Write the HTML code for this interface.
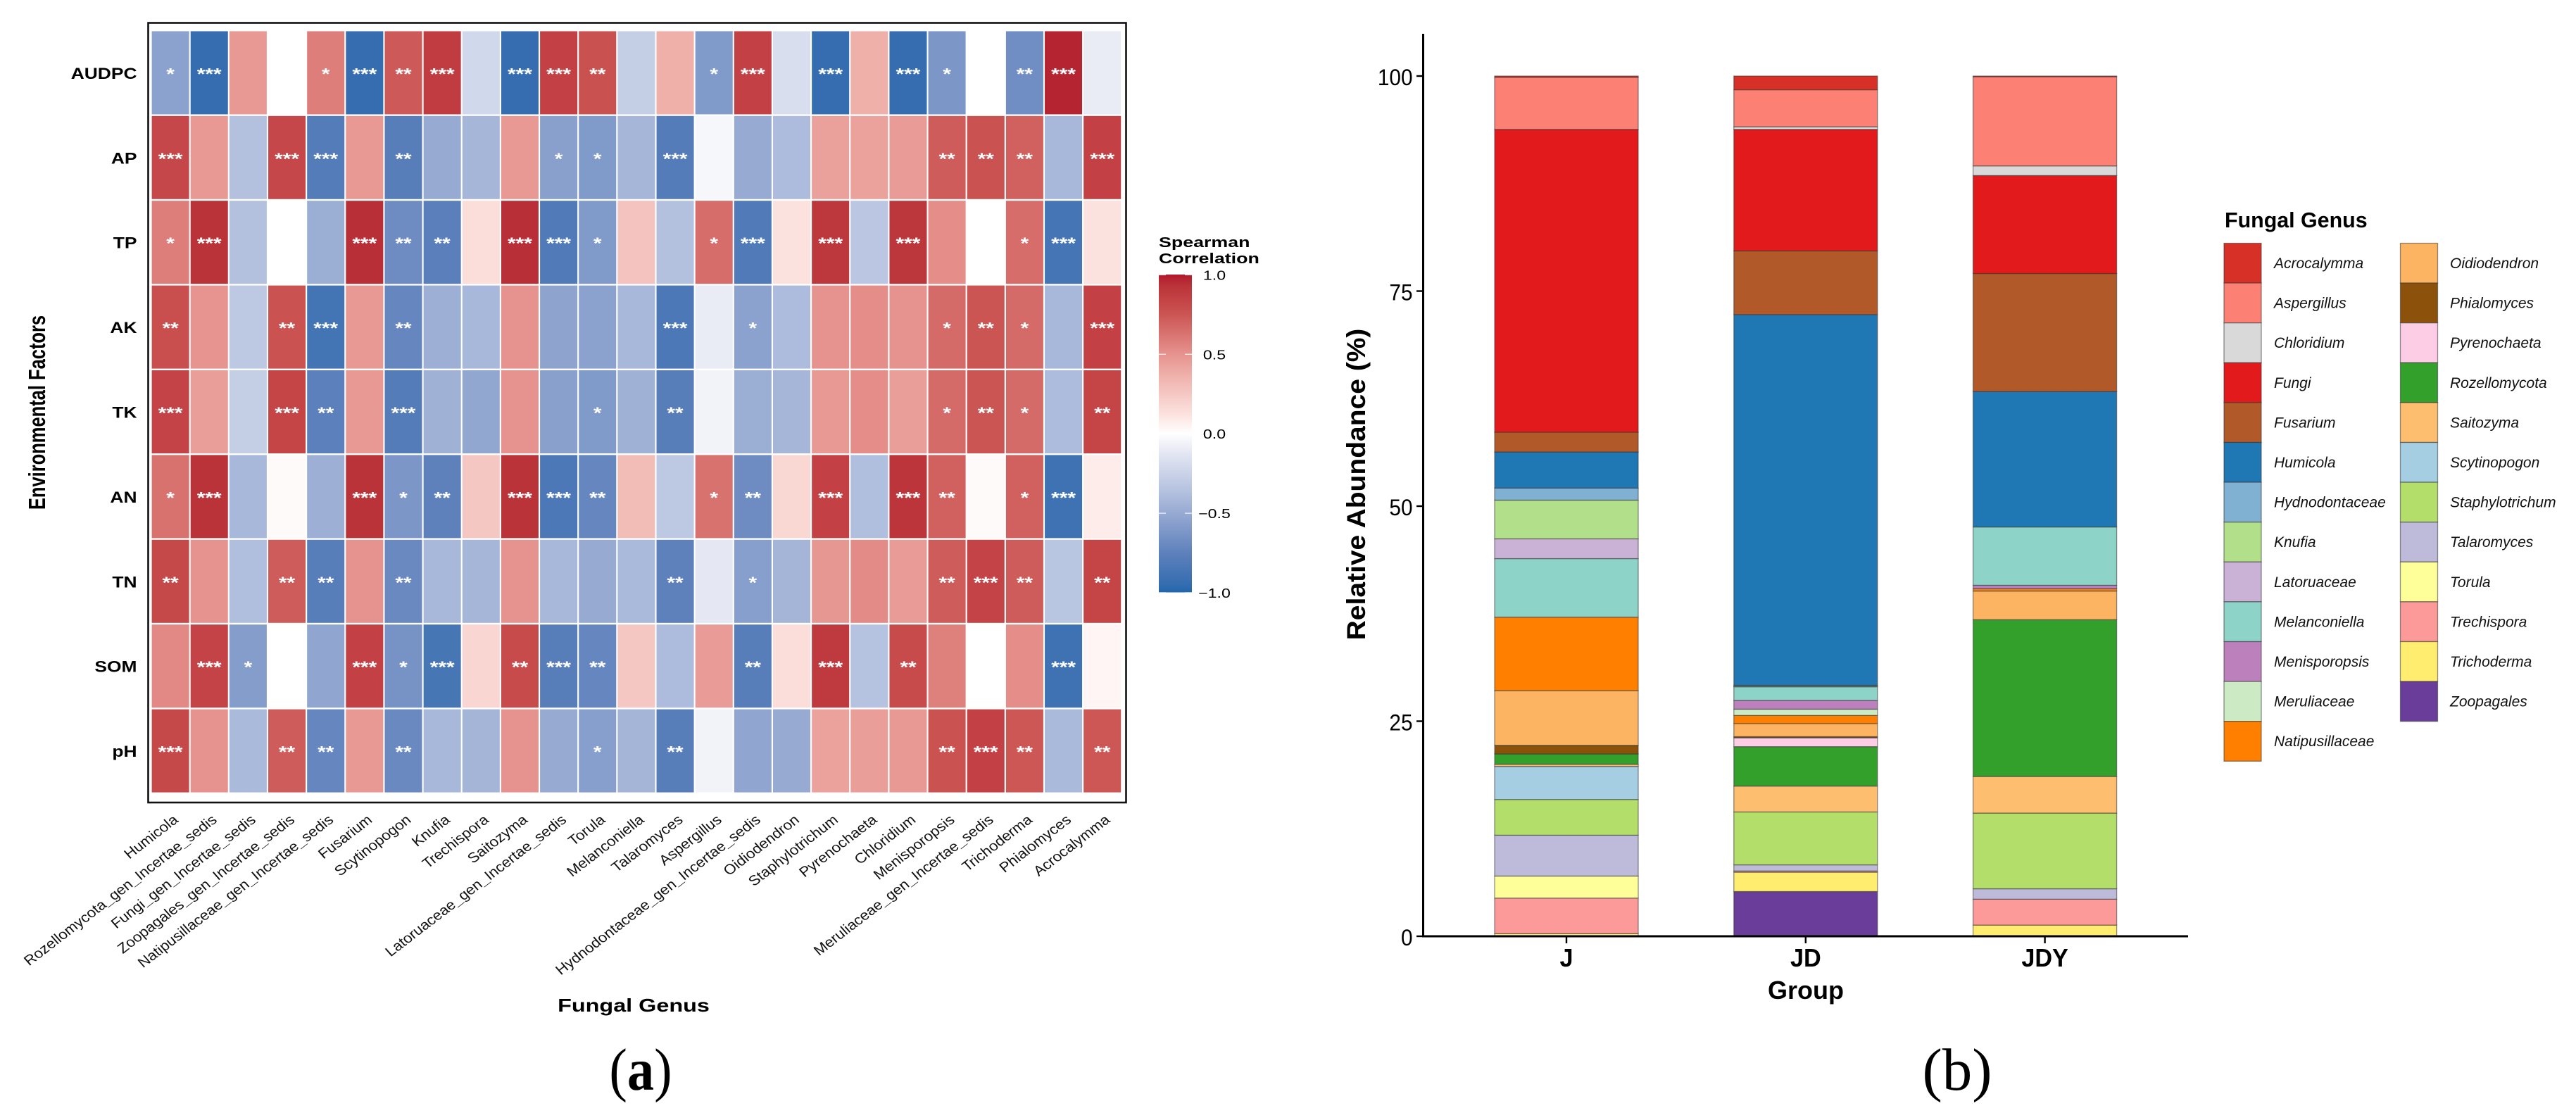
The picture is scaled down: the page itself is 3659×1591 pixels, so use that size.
<!DOCTYPE html>
<html lang="en">
<head>
<meta charset="utf-8">
<title>Spearman correlation heatmap and relative abundance of fungal genera</title>
<style>
html,body{margin:0;padding:0;background:#fff;}
svg{display:block;font-family:"Liberation Sans",Arial,sans-serif;}
</style>
</head>
<body>
<svg id="fig" xmlns="http://www.w3.org/2000/svg" width="3659" height="1591" viewBox="0 0 3659 1591">
  <rect x="0" y="0" width="3659" height="1591" fill="#fff"/>
  <g id="panelA">
    <g id="heatCells"></g>
    <rect x="210.5" y="32.5" width="1389" height="1107.5" fill="none" stroke="#111" stroke-width="2.6"/>
    <g id="heatYLabels"></g>
    <g id="heatXLabels"></g>
    <text transform="translate(64,586) scale(1.3,1) rotate(-90)" text-anchor="middle" font-size="25.5" font-weight="bold" fill="#000">Environmental Factors</text>
    <text transform="translate(900,1437) scale(1.27,1)" text-anchor="middle" font-size="25.5" font-weight="bold" fill="#000">Fungal Genus</text>
    <g>
      <text transform="translate(1646,351) scale(1.34,1)" font-size="20" font-weight="bold" fill="#000">Spearman</text>
      <text transform="translate(1646,374) scale(1.34,1)" font-size="20" font-weight="bold" fill="#000">Correlation</text>
      <defs><linearGradient id="cbGrad" x1="0" y1="1" x2="0" y2="0"></linearGradient></defs>
      <rect x="1646" y="390" width="47" height="451.5" fill="url(#cbGrad)"/>
      <g id="cbTicks"></g>
    </g>
    <text transform="translate(910,1548) scale(0.9,1)" text-anchor="middle" font-family="'Liberation Serif',serif" font-size="85" fill="#000">(<tspan font-weight="bold">a</tspan>)</text>
  </g>
  <g id="panelB">
    <g id="bars"></g>
    <line x1="2021.5" y1="48" x2="2021.5" y2="1331.5" stroke="#000" stroke-width="3"/>
    <line x1="2020" y1="1330" x2="3108" y2="1330" stroke="#000" stroke-width="3"/>
    <g id="barYTicks"></g>
    <g id="barXTicks"></g>
    <text transform="translate(1939,688) scale(0.96,1) rotate(-90)" text-anchor="middle" font-size="39" font-weight="bold" fill="#000">Relative Abundance (%)</text>
    <text transform="translate(2565,1419)" text-anchor="middle" font-size="36" font-weight="bold" fill="#000">Group</text>
    <text x="3160" y="323" font-size="30.4" font-weight="bold" fill="#000">Fungal Genus</text>
    <g id="barLegend"></g>
    <text x="2780" y="1548" text-anchor="middle" font-family="'Liberation Serif',serif" font-size="85" fill="#000">(b)</text>
  </g>
</svg>
<script>
/* ---------- heatmap data ---------- */
const heatGenera = ["Humicola","Rozellomycota_gen_Incertae_sedis","Fungi_gen_Incertae_sedis","Zoopagales_gen_Incertae_sedis","Natipusillaceae_gen_Incertae_sedis","Fusarium","Scytinopogon","Knufia","Trechispora","Saitozyma","Latoruaceae_gen_Incertae_sedis","Torula","Melanconiella","Talaromyces","Aspergillus","Hydnodontaceae_gen_Incertae_sedis","Oidiodendron","Staphylotrichum","Pyrenochaeta","Chloridium","Menisporopsis","Meruliaceae_gen_Incertae_sedis","Trichoderma","Phialomyces","Acrocalymma"];
const heatFactors = ["AUDPC","AP","TP","AK","TK","AN","TN","SOM","pH"];

const corrAUDPC = [-0.55,-0.95,0.47,0,0.58,-0.95,0.73,0.88,-0.22,-0.95,0.85,0.77,-0.28,0.37,-0.6,0.85,-0.18,-0.95,0.37,-0.95,-0.62,0,-0.67,0.97,-0.1];
const corrAP = [0.82,0.47,-0.37,0.82,-0.8,0.47,-0.78,-0.5,-0.43,0.47,-0.56,-0.6,-0.43,-0.8,-0.04,-0.5,-0.4,0.44,0.43,0.46,0.72,0.76,0.7,-0.42,0.85];
const corrTP = [0.58,0.93,-0.37,0,-0.48,0.94,-0.68,-0.77,0.14,0.94,-0.82,-0.6,0.27,-0.37,0.65,-0.82,0.12,0.9,-0.33,0.91,0.52,0,0.65,-0.87,0.12];
const corrAK = [0.78,0.49,-0.32,0.76,-0.88,0.47,-0.72,-0.47,-0.42,0.5,-0.54,-0.55,-0.42,-0.84,-0.1,-0.55,-0.4,0.5,0.52,0.5,0.66,0.75,0.66,-0.42,0.85];
const corrTK = [0.84,0.45,-0.28,0.83,-0.76,0.47,-0.8,-0.46,-0.52,0.5,-0.56,-0.6,-0.46,-0.78,-0.06,-0.48,-0.43,0.47,0.52,0.45,0.66,0.75,0.66,-0.4,0.83];
const corrAN = [0.63,0.93,-0.42,0.02,-0.47,0.93,-0.62,-0.75,0.25,0.93,-0.84,-0.72,0.31,-0.32,0.63,-0.68,0.17,0.85,-0.38,0.92,0.7,0.02,0.7,-0.9,0.08];
const corrTN = [0.81,0.5,-0.38,0.72,-0.78,0.5,-0.7,-0.42,-0.43,0.5,-0.42,-0.5,-0.41,-0.75,-0.12,-0.57,-0.44,0.48,0.53,0.46,0.72,0.84,0.72,-0.34,0.83];
const corrSOM = [0.54,0.84,-0.58,0,-0.53,0.85,-0.64,-0.86,0.18,0.8,-0.78,-0.72,0.25,-0.4,0.46,-0.78,0.14,0.89,-0.36,0.8,0.57,0,0.52,-0.9,0.04];
const corrPH = [0.81,0.5,-0.41,0.72,-0.72,0.47,-0.7,-0.42,-0.44,0.5,-0.5,-0.57,-0.44,-0.78,-0.06,-0.53,-0.5,0.43,0.45,0.47,0.76,0.85,0.74,-0.41,0.74];
const corrRows = [corrAUDPC,corrAP,corrTP,corrAK,corrTK,corrAN,corrTN,corrSOM,corrPH];

const sigAUDPC = ["*","***","","","*","***","**","***","","***","***","**","","","*","***","","***","","***","*","","**","***",""];
const sigAP = ["***","","","***","***","","**","","","","*","*","","***","","","","","","","**","**","**","","***"];
const sigTP = ["*","***","","","","***","**","**","","***","***","*","","","*","***","","***","","***","","","*","***",""];
const sigAK = ["**","","","**","***","","**","","","","","","","***","","*","","","","","*","**","*","","***"];
const sigTK = ["***","","","***","**","","***","","","","","*","","**","","","","","","","*","**","*","","**"];
const sigAN = ["*","***","","","","***","*","**","","***","***","**","","","*","**","","***","","***","**","","*","***",""];
const sigTN = ["**","","","**","**","","**","","","","","","","**","","*","","","","","**","***","**","","**"];
const sigSOM = ["","***","*","","","***","*","***","","**","***","**","","","","**","","***","","**","","","","***",""];
const sigPH = ["***","","","**","**","","**","","","","","*","","**","","","","","","","**","***","**","","**"];
const sigRows = [sigAUDPC,sigAP,sigTP,sigAK,sigTK,sigAN,sigTN,sigSOM,sigPH];

const colorbarTicks = [1,0.5,0,-0.5,-1];
const colorbarTickLabels = ["1.0","0.5","0.0","\u22120.5","\u22121.0"];

/* ---------- stacked bar data ---------- */
const barGroups = ["J","JD","JDY"];
const barTicks = [0,25,50,75,100];
const genusNames = ["Acrocalymma","Aspergillus","Chloridium","Fungi","Fusarium","Humicola","Hydnodontaceae","Knufia","Latoruaceae","Melanconiella","Menisporopsis","Meruliaceae","Natipusillaceae","Oidiodendron","Phialomyces","Pyrenochaeta","Rozellomycota","Saitozyma","Scytinopogon","Staphylotrichum","Talaromyces","Torula","Trechispora","Trichoderma","Zoopagales"];
const genusColors = ["#D73027","#FC8074","#D9D9D9","#E31A1C","#B15928","#1F78B4","#80B1D3","#B2DF8A","#CAB2D6","#8DD3C7","#BC80BD","#CCEBC5","#FF7F00","#FDB462","#8C510A","#FCCDE5","#33A02C","#FDBF6F","#A6CEE3","#B3DE69","#BEBADA","#FFFF99","#FB9A99","#FFED6F","#6A3D9A"];
const valuesJ = [0.15,6.05,0,35.2,2.3,4.2,1.4,4.5,2.3,6.8,0,0,8.55,6.35,1.0,0,1.2,0.25,3.85,4.15,4.75,2.56,4.14,0.3,0];
const valuesJD = [1.6,4.3,0.3,14.13,7.4,43.1,0.1,0.07,0,1.58,1.02,0.73,0.94,1.53,0.13,1.03,4.58,3.01,0,6.15,0.71,0,0.14,2.25,5.2];
const valuesJDY = [0.08,10.37,1.12,11.39,13.72,15.74,0,0,0,6.78,0.4,0,0.27,3.33,0,0,18.22,4.26,0,8.8,1.21,0,3.01,1.3,0];
const barValues = [valuesJ,valuesJD,valuesJDY];

/* ---------- helpers and axis functions ---------- */
const NS = "http://www.w3.org/2000/svg";
function el(tag, parent, attrs){
  const n = document.createElementNS(NS, tag);
  for (const k in attrs) n.setAttribute(k, attrs[k]);
  parent.appendChild(n);
  return n;
}
const colorStops = [[-1,"#2166AC"],[-0.95,"#356DB0"],[-0.75,"#5E81BC"],[-0.5,"#97AAD2"],[-0.37,"#B3C1DF"],[-0.25,"#CAD3E8"],[-0.1,"#E9EBF5"],[0,"#FFFFFF"],[0.12,"#FCE2DE"],[0.25,"#F5C7C3"],[0.37,"#EFB0AA"],[0.5,"#E6928E"],[0.75,"#CB5553"],[0.85,"#C34144"],[0.93,"#BA3339"],[1,"#B2182B"]];
function hexRgb(h){return [parseInt(h.substr(1,2),16),parseInt(h.substr(3,2),16),parseInt(h.substr(5,2),16)];}
function colorScale(v){
  v = Math.max(-1, Math.min(1, v));
  for (let i = 1; i < colorStops.length; i++){
    if (v <= colorStops[i][0]){
      const a = colorStops[i-1], b = colorStops[i];
      const t = (v - a[0]) / (b[0] - a[0]);
      const ca = hexRgb(a[1]), cb = hexRgb(b[1]);
      return "rgb(" + ca.map((c,k) => Math.round(c + (cb[k]-c)*t)).join(",") + ")";
    }
  }
  return colorStops[colorStops.length-1][1];
}
const heatLeft = 215.6, heatTop = 44.4, heatPitchX = 55.15, heatPitchY = 120.4, cellW = 53, cellH = 118;
function heatX(i){ return heatLeft + i * heatPitchX; }
function heatY(j){ return heatTop + j * heatPitchY; }
function colorbarY(v){ return 616.2 - v * 225.8; }
function barY(v){ return 1330 - v * 12.22; }
function barX(i){ return 2225 + i * 339.8; }

/* ---------- heatmap ---------- */
const heatCells = document.getElementById("heatCells");
corrRows.forEach(function(row, j){
  row.forEach(function(v, i){
    const r = el("rect", heatCells, {x:heatX(i), y:heatY(j), width:cellW, height:cellH, fill:colorScale(v)});
    
    
    const s = sigRows[j][i];
    if (s){
      const t = el("text", heatCells, {transform:"translate(" + (heatX(i)+cellW/2) + "," + (heatY(j)+cellH/2+9.5) + ") scale(1.3,1)", "text-anchor":"middle", "font-size":23, "font-weight":"bold", fill:"#fff"});
      t.textContent = s;
      
      
    }
  });
});
const heatYLabels = document.getElementById("heatYLabels");
heatFactors.forEach(function(f, j){
  const t = el("text", heatYLabels, {transform:"translate(194.5," + (heatY(j)+cellH/2+8.5) + ") scale(1.2,1)", "text-anchor":"end", "font-size":22, "font-weight":"bold", fill:"#000"});
  t.textContent = f;
  
  
});
const heatXLabels = document.getElementById("heatXLabels");
heatGenera.forEach(function(g, i){
  const t = el("text", heatXLabels, {transform:"translate(" + (heatX(i)+cellW/2+13) + ",1166) scale(1.3,1) rotate(-45)", "text-anchor":"end", "font-size":18.4, "font-style":"italic", fill:"#111"});
  t.textContent = g;
  
  
});

/* ---------- colorbar ---------- */
const cbGrad = document.getElementById("cbGrad");
colorStops.forEach(function(s){
  el("stop", cbGrad, {offset:((s[0]+1)/2*100)+"%", "stop-color":s[1]});
});
const cbTicks = document.getElementById("cbTicks");
colorbarTicks.forEach(function(v, k){
  const y = colorbarY(v);
  const l1 = el("line", cbTicks, {x1:1646, x2:1656, y1:y, y2:y, stroke:"#fff", "stroke-width":1.4, "stroke-opacity":0.8});
  
  
  const l2 = el("line", cbTicks, {x1:1683, x2:1693, y1:y, y2:y, stroke:"#fff", "stroke-width":1.4, "stroke-opacity":0.8});
  
  
  const t = el("text", cbTicks, {transform:"translate(1725," + (y+7) + ") scale(1.25,1)", "text-anchor":"middle", "font-size":18.5, fill:"#000"});
  t.textContent = colorbarTickLabels[k];
  
  
});

/* ---------- stacked bars ---------- */
const barsG = document.getElementById("bars");
const barWidth = 204;
barValues.forEach(function(vals, g){
  let base = 0;
  for (let i = vals.length - 1; i >= 0; i--){
    const v = vals[i];
    if (v > 0){
      const r = el("rect", barsG, {x:barX(g)-barWidth/2, y:barY(base+v), width:barWidth, height:barY(base)-barY(base+v), fill:genusColors[i], stroke:"#333", "stroke-opacity":0.55, "stroke-width":1.3});
      
      
    }
    base += v;
  }
});
const barYTicks = document.getElementById("barYTicks");
barTicks.forEach(function(v){
  const y = barY(v);
  const l = el("line", barYTicks, {x1:2012, x2:2021, y1:y, y2:y, stroke:"#000", "stroke-width":2.4});
  
  
  const t = el("text", barYTicks, {transform:"translate(2006.5," + (y+13) + ") scale(0.93,1)", "text-anchor":"end", "font-size":32, fill:"#000"});
  t.textContent = String(v);
  
  
});
const barXTicks = document.getElementById("barXTicks");
barGroups.forEach(function(g, i){
  const x = barX(i);
  const l = el("line", barXTicks, {x1:x, x2:x, y1:1331, y2:1340, stroke:"#000", "stroke-width":2.4});
  
  
  const t = el("text", barXTicks, {transform:"translate(" + x + ",1373) scale(0.95,1)", "text-anchor":"middle", "font-size":36, "font-weight":"bold", fill:"#000"});
  t.textContent = g;
  
  
});

/* ---------- legend ---------- */
const barLegend = document.getElementById("barLegend");
genusNames.forEach(function(name, i){
  const col = i < 13 ? 0 : 1;
  const row = col === 0 ? i : i - 13;
  const sx = col === 0 ? 3159 : 3409.5;
  const tx = col === 0 ? 3230 : 3480;
  const y = 345.5 + row * 56.6;
  const r = el("rect", barLegend, {x:sx, y:y, width:53, height:56.6, fill:genusColors[i], stroke:"#333", "stroke-opacity":0.55, "stroke-width":1.3});
  
  
  const t = el("text", barLegend, {x:tx, y:y+35.5, "font-size":21, "font-style":"italic", fill:"#111"});
  t.textContent = name;
  
  
});
</script>
</body>
</html>
